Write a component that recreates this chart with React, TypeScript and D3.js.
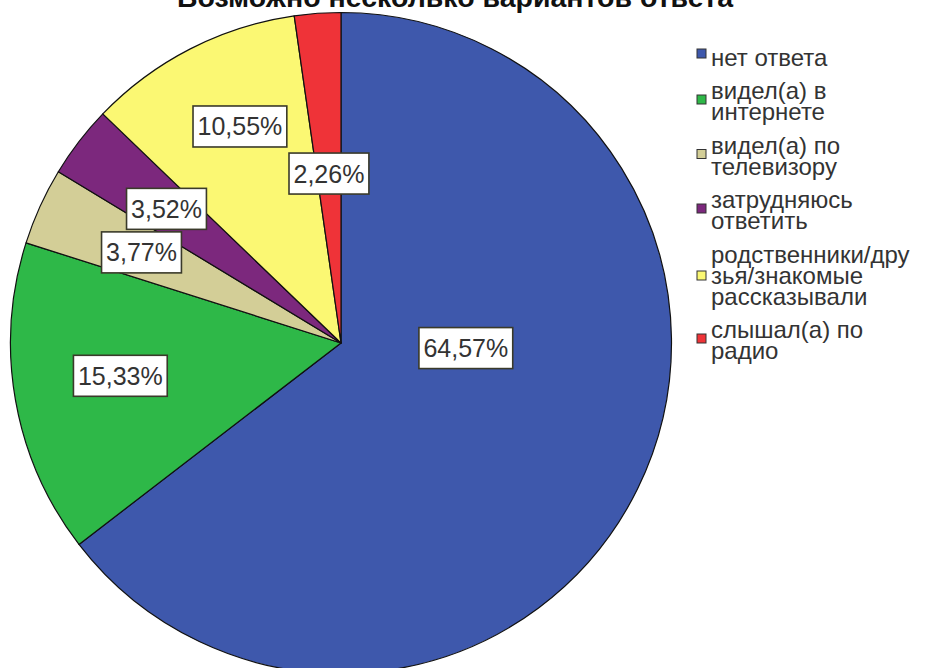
import React, { useEffect, useRef } from 'react';
import * as d3 from 'd3';

const title = 'Возможно несколько вариантов ответа';
const categories = [
  'нет ответа',
  'видел(а) в интернете',
  'видел(а) по телевизору',
  'затрудняюсь ответить',
  'родственники/друзья/знакомые рассказывали',
  'слышал(а) по радио',
];
const values = [64.57, 15.33, 3.77, 3.52, 10.55, 2.26];
// legend text as wrapped in the original
const legendLines = [
  ['нет ответа'],
  ['видел(а) в', 'интернете'],
  ['видел(а) по', 'телевизору'],
  ['затрудняюсь', 'ответить'],
  ['родственники/дру', 'зья/знакомые', 'рассказывали'],
  ['слышал(а) по', 'радио'],
];
const colors = ['#3E58AC', '#2EB848', '#D3CE97', '#7C287D', '#FBF873', '#EF3338'];

// label placement (fraction of radius, angle shift in degrees)
const labelRadius = [0.378, 0.675, 0.663, 0.666, 0.723, 0.514];
const labelShift = [-23.9, 1.5, 0, 0, 2.1, 0];

const W = 928;
const H = 668;
const FONT = '"Liberation Sans", Arial, sans-serif';

export default function App() {
  const svgRef = useRef<SVGSVGElement>(null);

  useEffect(() => {
    if (!svgRef.current) return;
    const svg = d3.select(svgRef.current);
    svg.selectAll('*').remove();

    const cx = 341;
    const cy = 343;
    const R = 330.5;

    const pie = d3.pie<number>().sort(null).value((d) => d);
    const arcs = pie(values);
    const arc = d3.arc<d3.PieArcDatum<number>>().innerRadius(0).outerRadius(R);

    const g = svg.append('g').attr('transform', `translate(${cx},${cy})`);

    g.selectAll('path.slice')
      .data(arcs)
      .join('path')
      .attr('class', 'slice')
      .attr('d', arc as any)
      .attr('fill', (_, i) => colors[i])
      .attr('stroke', '#111')
      .attr('stroke-width', 1.2)
      .attr('stroke-linejoin', 'round');

    // percent labels
    const fmt = (v: number) => v.toFixed(2).replace('.', ',') + '%';
    arcs.forEach((a, i) => {
      const ang = (a.startAngle + a.endAngle) / 2 + (labelShift[i] * Math.PI) / 180;
      const r = R * labelRadius[i];
      const x = r * Math.sin(ang);
      const y = -r * Math.cos(ang);
      const lg = g.append('g').attr('transform', `translate(${x},${y})`);
      const rect = lg.append('rect');
      const t = lg
        .append('text')
        .attr('text-anchor', 'middle')
        .attr('y', 9)
        .style('font-family', FONT)
        .style('font-size', '25px')
        .style('fill', '#333')
        .text(fmt(values[i]));
      const tw = (t.node() as SVGTextElement).getComputedTextLength();
      const bw = tw + 9;
      const bh = 41;
      rect
        .attr('x', -bw / 2)
        .attr('y', -bh / 2)
        .attr('width', bw)
        .attr('height', bh)
        .attr('fill', '#fff')
        .attr('stroke', '#3a3a2a')
        .attr('stroke-width', 1.6);
    });

    // title (mostly cut off at the top)
    svg
      .append('text')
      .attr('x', 455)
      .attr('y', 7)
      .attr('text-anchor', 'middle')
      .style('font-family', FONT)
      .style('font-weight', 'bold')
      .style('font-size', '28.5px')
      .style('fill', '#111')
      .text(title);

    // legend
    const leg = svg.append('g').attr('class', 'legend');
    const lineH = 21;
    const gap = 33.5;
    let base = 65.5;
    categories.forEach((_, i) => {
      const lines = legendLines[i];
      const first = base;
      const last = base + (lines.length - 1) * lineH;
      const sq = 9;
      const sy = (first + last) / 2 - 12 + 2 * (lines.length - 1);
      leg
        .append('rect')
        .attr('x', 697)
        .attr('y', sy - sq / 2)
        .attr('width', sq)
        .attr('height', sq)
        .attr('fill', colors[i])
        .attr('stroke', '#333')
        .attr('stroke-width', 1);
      const t = leg
        .append('text')
        .style('font-family', FONT)
        .style('font-size', '24px')
        .style('fill', '#333');
      lines.forEach((ln, j) => {
        t.append('tspan')
          .attr('x', 711)
          .attr('y', first + j * lineH)
          .text(ln);
      });
      base = last + gap;
    });
  }, []);

  return (
    <svg
      ref={svgRef}
      width={W}
      height={H}
      style={{ position: 'absolute', left: 0, top: 0, background: '#fff' }}
    />
  );
}
